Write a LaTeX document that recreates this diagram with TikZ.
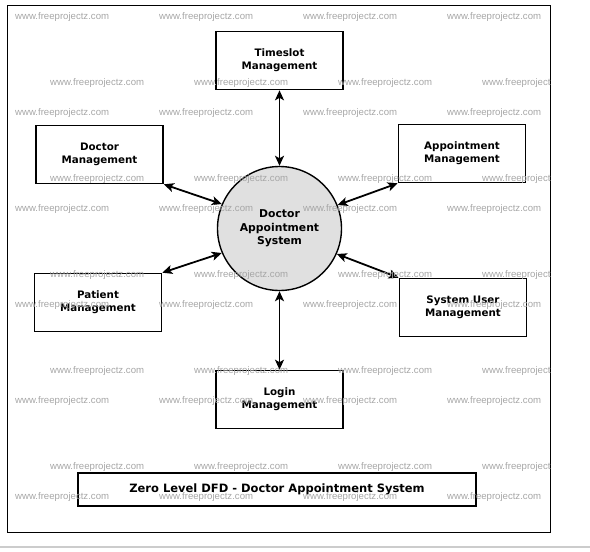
\documentclass[tikz,border=0pt]{standalone}
\usepackage{fontspec}
\setmainfont{DejaVu Sans}
\newfontfamily\wmfont{Liberation Sans}
\usepackage{tikz}
\usetikzlibrary{arrows.meta}
\tikzset{proc/.style = {draw=black, line width=1.6pt, minimum width=127pt, minimum height=58pt, align=center, font=\bfseries\fontsize{10.3}{13}\selectfont}}
\tikzset{sys/.style = {circle, draw=black, line width=1.4pt, fill=black!12, minimum size=124pt, align=center, font=\bfseries\fontsize{10.8}{13.5}\selectfont}}
\tikzset{flow/.style = {<->, line width=1.8pt, >={Stealth[length=10pt,width=9pt,inset=2.5pt]}}}
\tikzset{wm/.style = {anchor=west, inner sep=0pt, text=black!35, font=\wmfont\fontsize{9.6}{10}\selectfont}}

\begin{document}
\begin{tikzpicture}[x=1pt, y=-1pt]
        \useasboundingbox (0,0) rectangle (590,552);
        \draw [line width=1.5pt] (7.5,5.5) rectangle (550.5,532.5);
        \draw [black!20, line width=2pt] (0,547) -- (590,547);

        \node [sys]  (das) at (279.5,228.5) {Doctor\\Appointment\\System};

        \node [proc] (ts) at (279.5, 60.5) {Timeslot\\Management};
        \node [proc] (dm) at ( 99.5,154.5) {Doctor\\Management};
        \node [proc] (am) at (462.0,153.5) {Appointment\\Management};
        \node [proc] (pm) at ( 98.0,302.5) {Patient\\Management};
        \node [proc] (su) at (463.0,307.5) {System User\\Management};
        \node [proc] (lm) at (279.5,399.5) {Login\\Management};

        \node [proc, minimum width=398pt, minimum height=33pt, font=\bfseries\fontsize{11.5}{14}\selectfont] (title) at (277,489.5) {Zero Level DFD - Doctor Appointment System};

        \draw [flow] (ts.south) -- (das.north);
        \draw [flow] (dm.south east) -- (das.157);
        \draw [flow] (am.south west) -- (das.22);
        \draw [flow] (pm.north east) -- (das.203);
        \draw [flow] (su.north west) -- (das.336);
        \draw [flow] (das.south) -- (lm.north);

        % watermark
        \begin{scope}
            \clip (7.5,5.5) rectangle (550.5,532.5);
            \foreach \y in {17,113,...,497}
                \foreach \x in {15,159,303,447}
                    \node [wm] (wa-\x-\y) at (\x,\y) {www.freeprojectz.com};
            \foreach \y in {83,179,...,467}
                \foreach \x in {50,194,338,482}
                    \node [wm] (wb-\x-\y) at (\x,\y) {www.freeprojectz.com};
        \end{scope}
\end{tikzpicture}
\end{document}
